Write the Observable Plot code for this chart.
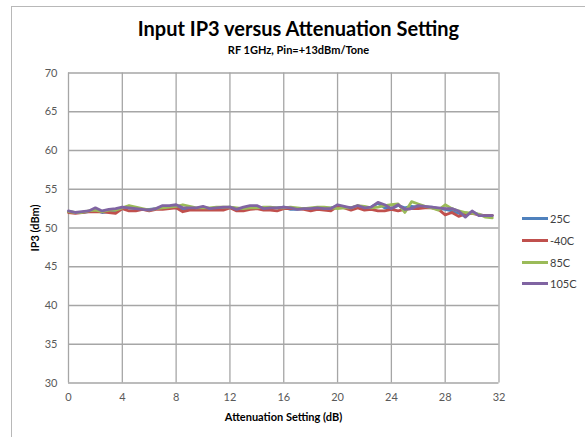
<!DOCTYPE html>
<html>
<head>
<meta charset="utf-8">
<script src="https://cdn.jsdelivr.net/npm/d3@7"></script>
<script src="https://cdn.jsdelivr.net/npm/@observablehq/plot@0.6"></script>
<style>
  html, body { margin: 0; padding: 0; background: #fff; overflow: hidden; }
  #wrap { position: relative; width: 585px; height: 437px; font-family: Lato, "Open Sans", sans-serif; }
  #border { position: absolute; left: 11px; top: 6px; width: 620px; height: 460px; border: 1px solid #b8b8b8; }
  #title { position: absolute; left: 0; width: 597px; top: 16px; text-align: center; font-weight: bold; font-size: 20px; color: #000; }
  #subtitle { position: absolute; left: 0; width: 597px; top: 43px; text-align: center; font-weight: bold; font-size: 11px; color: #000; }
  #xtitle { position: absolute; left: 68px; width: 431px; top: 410px; text-align: center; font-weight: bold; font-size: 11px; color: #000; }
  #ytitle { position: absolute; left: 34px; top: 228px; transform: translate(-50%, -50%) rotate(-90deg); font-weight: bold; font-size: 11px; color: #000; white-space: nowrap; }
  #legend { position: absolute; left: 522px; top: 208px; font-size: 11px; color: #404040; }
  .li { display: flex; align-items: center; height: 21.7px; }
  .sw { width: 26px; height: 3px; margin-right: 2px; }
  #chart { position: absolute; left: 0; top: 0; }
</style>
</head>
<body>
<div id="wrap">
  <div id="border"></div>
  <div id="chart"></div>
  <div id="title">Input IP3 versus Attenuation Setting</div>
  <div id="subtitle">RF 1GHz, Pin=+13dBm/Tone</div>
  <div id="xtitle">Attenuation Setting (dB)</div>
  <div id="ytitle">IP3 (dBm)</div>
  <div id="legend"></div>
</div>
<script>
const seriesNames = ["25C", "-40C", "85C", "105C"];
const seriesColors = ["#4f81bd", "#c0504d", "#9bbb59", "#8064a2"];
const xTicks = [0, 4, 8, 12, 16, 20, 24, 28, 32];
const yTicks = [30, 35, 40, 45, 50, 55, 60, 65, 70];

const atten = [0,0.5,1,1.5,2,2.5,3,3.5,4,4.5,5,5.5,6,6.5,7,7.5,8,8.5,9,9.5,10,10.5,11,11.5,12,12.5,13,13.5,14,14.5,15,15.5,
  16,16.5,17,17.5,18,18.5,19,19.5,20,20.5,21,21.5,22,22.5,23,23.5,24,24.5,25,25.5,26,26.5,27,27.5,28,28.5,29,29.5,30,30.5,31,31.5];

const ip3_25C = [52.1,52.0,52.0,52.1,52.3,52.0,52.1,52.2,52.5,52.6,52.5,52.4,52.4,52.5,52.7,52.7,52.6,52.4,52.5,52.5,52.6,52.5,52.6,52.6,52.7,52.5,52.5,52.7,52.7,52.6,52.6,52.6,
  52.7,52.4,52.4,52.5,52.5,52.6,52.5,52.6,52.8,52.7,52.6,52.8,52.6,52.7,53.2,52.6,52.5,52.9,52.6,52.8,52.7,52.7,52.7,52.5,52.4,52.2,51.9,51.6,52.1,51.7,51.6,51.6];
const ip3_m40C = [52.0,51.9,52.0,52.1,52.1,52.1,52.0,51.9,52.5,52.2,52.2,52.4,52.2,52.4,52.4,52.5,52.6,52.1,52.3,52.3,52.3,52.3,52.3,52.3,52.6,52.2,52.2,52.4,52.5,52.3,52.3,52.2,
  52.5,52.5,52.5,52.4,52.2,52.4,52.3,52.2,52.8,52.6,52.3,52.6,52.3,52.4,52.2,52.2,52.4,52.2,52.4,52.5,52.5,52.6,52.6,52.4,51.7,52.0,51.5,51.8,51.9,51.7,51.6,51.6];
const ip3_85C = [52.1,52.0,52.0,52.2,52.3,52.1,52.3,52.3,52.6,52.9,52.7,52.5,52.3,52.5,52.6,52.7,52.8,53.0,52.8,52.6,52.6,52.6,52.7,52.7,52.7,52.6,52.5,52.6,52.6,52.7,52.7,52.6,
  52.6,52.7,52.6,52.5,52.6,52.7,52.7,52.6,52.5,52.6,52.6,52.9,52.8,52.6,52.7,52.9,53.0,53.1,52.0,53.4,53.1,52.8,52.6,52.3,53.0,52.5,52.2,52.0,51.9,51.8,51.4,51.3];
const ip3_105C = [52.2,52.0,52.1,52.2,52.6,52.2,52.4,52.5,52.7,52.6,52.5,52.4,52.3,52.5,52.9,52.9,53.0,52.6,52.6,52.6,52.8,52.5,52.6,52.7,52.7,52.4,52.7,52.9,52.9,52.5,52.6,52.6,
  52.7,52.6,52.4,52.5,52.5,52.6,52.5,52.5,53.0,52.8,52.6,52.9,52.6,52.7,53.3,53.0,52.5,53.0,52.4,52.5,52.9,52.8,52.7,52.6,52.5,52.5,52.2,51.4,52.2,51.6,51.6,51.6];

const seriesValues = [ip3_25C, ip3_m40C, ip3_85C, ip3_105C];
const rows = [];
seriesNames.forEach((s, i) => atten.forEach((x, j) => rows.push({series: s, x, v: seriesValues[i][j]})));

const gridStyle = {stroke: "#a6a6a6", strokeOpacity: 1, strokeWidth: 1.3};
const chart = Plot.plot({
  width: 585,
  height: 437,
  marginTop: 72.5,
  marginBottom: 54.5,
  marginLeft: 68,
  marginRight: 86.5,
  style: {fontFamily: "Lato, 'Open Sans', sans-serif", fontSize: "11px", color: "#595959", background: "transparent"},
  x: {domain: [0, 32]},
  y: {domain: [30, 70]},
  color: {domain: seriesNames, range: seriesColors},
  marks: [
    Plot.gridX(xTicks, gridStyle),
    Plot.gridY(yTicks, gridStyle),
    Plot.axisX(xTicks, {tickSize: 0, tickPadding: 10, label: null, fill: "#595959"}),
    Plot.axisY(yTicks, {tickSize: 0, tickPadding: 11, label: null, fill: "#595959"}),
    Plot.lineY(rows, {x: "x", y: "v", z: "series", stroke: "series", strokeWidth: 2.8, strokeLinejoin: "round", strokeLinecap: "round"})
  ]
});
document.getElementById("chart").appendChild(chart);

const legend = document.getElementById("legend");
seriesNames.forEach((s, i) => {
  const row = document.createElement("div");
  row.className = "li";
  const sw = document.createElement("div");
  sw.className = "sw";
  sw.style.background = seriesColors[i];
  const t = document.createElement("span");
  t.textContent = s;
  row.appendChild(sw);
  row.appendChild(t);
  legend.appendChild(row);
});
</script>
</body>
</html>
